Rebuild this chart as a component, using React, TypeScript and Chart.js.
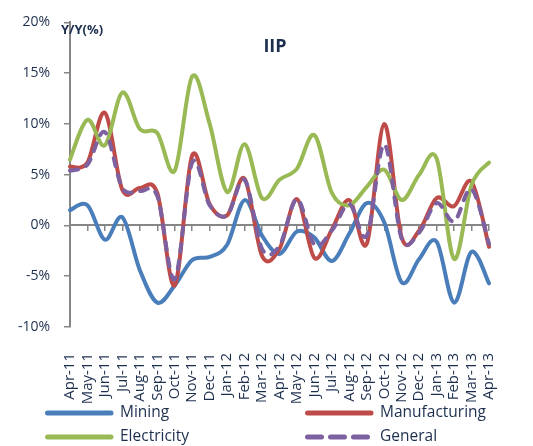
import React, { useEffect, useRef } from 'react';
import { Chart, registerables } from 'chart.js';

Chart.register(...registerables);

const categories = [
  'Apr-11', 'May-11', 'Jun-11', 'Jul-11', 'Aug-11', 'Sep-11', 'Oct-11', 'Nov-11', 'Dec-11',
  'Jan-12', 'Feb-12', 'Mar-12', 'Apr-12', 'May-12', 'Jun-12', 'Jul-12', 'Aug-12', 'Sep-12',
  'Oct-12', 'Nov-12', 'Dec-12', 'Jan-13', 'Feb-13', 'Mar-13', 'Apr-13',
];

const mining = [1.5, 2.0, -1.4, 0.8, -4.4, -7.6, -5.9, -3.4, -3.1, -1.9, 2.5, -1.0, -2.8, -0.6, -1.2, -3.5, -0.8, 2.2, 0.3, -5.6, -3.3, -1.6, -7.6, -2.6, -5.7];
const manufacturing = [5.8, 6.2, 11.1, 3.5, 3.7, 3.2, -5.9, 6.9, 2.1, 1.0, 4.6, -3.0, -2.3, 2.6, -3.2, -0.4, 2.5, -1.8, 10.0, -1.2, -0.5, 2.7, 1.9, 4.3, -2.1];
const electricity = [6.5, 10.4, 7.9, 13.1, 9.5, 9.1, 5.4, 14.7, 10.0, 3.3, 8.0, 2.7, 4.5, 5.6, 8.9, 3.2, 2.0, 3.8, 5.5, 2.5, 5.0, 6.6, -3.3, 4.0, 6.2];
const general = [5.4, 6.0, 9.2, 3.7, 3.4, 2.9, -5.3, 6.2, 2.0, 1.0, 4.5, -2.3, -2.0, 2.6, -1.9, -0.5, 2.1, -1.0, 8.0, -1.3, -0.7, 2.2, 0.4, 3.6, -1.8];

const yTicks = [-10, -5, 0, 5, 10, 15, 20];

const seriesNames = ['Mining', 'Manufacturing', 'Electricity', 'General'];
const seriesColors = ['#4A7EBB', '#BE4B48', '#98B954', '#7D60A0'];

const chartTitle = 'IIP';
const yAxisTitle = 'Y/Y(%)';

const FONT = "'Open Sans', sans-serif";
const NAVY = '#1D2F4E';
const AXIS = '#868686';

// Excel-like uniform Catmull-Rom smoothing of the points that the scales placed
const excelSmooth = {
  id: 'excelSmooth',
  beforeDatasetDraw(chart: any, args: any) {
    const meta = args.meta;
    const line = meta.dataset;
    if (!line || !meta.data || meta.data.length < 2) return;
    line.updateControlPoints(chart.chartArea, meta.iScale.axis);
    const pts = meta.data;
    const n = pts.length;
    const k = 1 / 6;
    for (let i = 0; i < n; i++) {
      const p = pts[i];
      const prev = pts[Math.max(0, i - 1)];
      const next = pts[Math.min(n - 1, i + 1)];
      const dx = next.x - prev.x;
      const dy = next.y - prev.y;
      p.cp1x = p.x - dx * k;
      p.cp1y = p.y - dy * k;
      p.cp2x = p.x + dx * k;
      p.cp2y = p.y + dy * k;
    }
    line._path = undefined;
  },
};

const textsPlugin = {
  id: 'chartTexts',
  afterDraw(chart: any) {
    const ctx = chart.ctx;
    ctx.save();
    ctx.fillStyle = NAVY;
    ctx.textBaseline = 'middle';
    ctx.textAlign = 'center';
    ctx.font = `bold 18px ${FONT}`;
    ctx.fillText(chartTitle, 275, 47);
    ctx.textAlign = 'left';
    ctx.font = `bold 13px ${FONT}`;
    ctx.fillText(yAxisTitle, 61, 30);

    // legend in two columns
    const cols = [45, 305];
    const rows = [413, 437];
    chart.data.datasets.forEach((ds: any, i: number) => {
      const x = cols[i % 2];
      const y = rows[Math.floor(i / 2)];
      ctx.save();
      ctx.strokeStyle = ds.borderColor;
      ctx.lineWidth = 5;
      ctx.lineCap = 'round';
      ctx.setLineDash(ds.borderDash ? [14, 9] : []);
      ctx.beginPath();
      ctx.moveTo(x + 2.5, y);
      ctx.lineTo(x + 66, y);
      ctx.stroke();
      ctx.restore();
      ctx.fillStyle = NAVY;
      ctx.font = `15.5px ${FONT}`;
      ctx.textAlign = 'left';
      ctx.textBaseline = 'middle';
      ctx.fillText(ds.label, x + 75, y);
    });
    ctx.restore();
  },
};

export default function App() {
  const ref = useRef<HTMLCanvasElement | null>(null);

  useEffect(() => {
    document.body.style.margin = '0';
    const canvas = ref.current;
    if (!canvas) return;
    const values = [mining, manufacturing, electricity, general];
    const chart = new Chart(canvas, {
      type: 'line',
      data: {
        labels: categories,
        datasets: seriesNames.map((name, i) => ({
          label: name,
          data: values[i],
          borderColor: seriesColors[i],
          backgroundColor: seriesColors[i],
          borderWidth: 4,
          pointRadius: 0,
          pointHoverRadius: 0,
          tension: 0.4,
          fill: false,
          borderCapStyle: 'round',
          borderJoinStyle: 'round',
          borderDash: i === 3 ? [8, 9] : undefined,
          order: 3 - i,
          xAxisID: 'x',
          yAxisID: 'y',
        })) as any,
      },
      options: {
        responsive: false,
        animation: false,
        events: [],
        layout: { padding: { left: 10, top: 14, right: 11, bottom: 0 } },
        plugins: {
          legend: { display: false },
          title: { display: false },
          tooltip: { enabled: false },
        },
        scales: {
          x: {
            type: 'category',
            position: { y: 0 } as any,
            offset: false,
            grid: {
              display: true,
              drawOnChartArea: false,
              drawTicks: true,
              tickLength: 5,
              color: AXIS,
              lineWidth: 1.5,
            },
            border: { display: true, color: AXIS, width: 2 },
            ticks: { display: false },
          },
          x2: {
            type: 'category',
            position: 'bottom',
            labels: categories,
            offset: false,
            grid: { display: false, drawTicks: false },
            border: { display: false },
            ticks: {
              autoSkip: false,
              minRotation: 90,
              maxRotation: 90,
              padding: 26,
              color: NAVY,
              font: { family: FONT, size: 15 },
            },
            afterFit: (s: any) => {
              s.height = 119;
            },
          } as any,
          y: {
            type: 'linear',
            min: yTicks[0],
            max: yTicks[yTicks.length - 1],
            afterBuildTicks: (s: any) => {
              s.ticks = yTicks.map((v) => ({ value: v }));
            },
            ticks: {
              color: NAVY,
              font: { family: FONT, size: 14 },
              padding: 14,
              callback: (v: any) => `${v}%`,
            },
            grid: {
              display: true,
              drawOnChartArea: false,
              drawTicks: true,
              tickLength: 6,
              color: AXIS,
              lineWidth: 1.5,
            },
            border: { display: true, color: AXIS, width: 2 },
            afterFit: (s: any) => {
              s.width = 60;
            },
          } as any,
        },
      },
      plugins: [excelSmooth, textsPlugin],
    });
    return () => chart.destroy();
  }, []);

  return (
    <div style={{ width: 533, height: 446, position: 'relative', background: '#fff' }}>
      <canvas ref={ref} width={533} height={446} />
    </div>
  );
}
